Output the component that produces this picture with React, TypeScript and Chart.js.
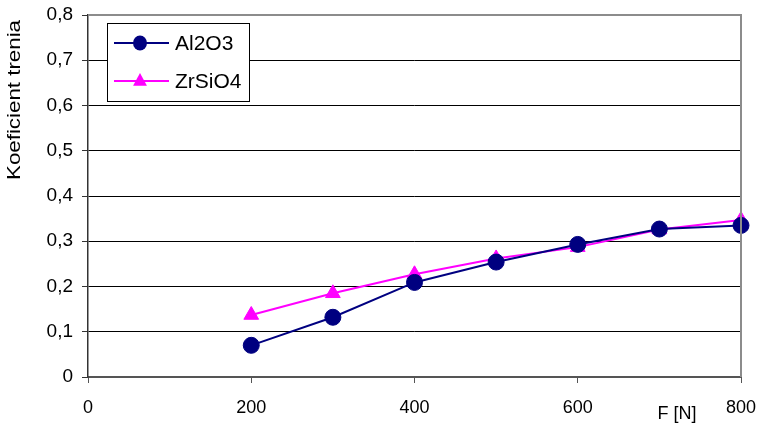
import React, { useEffect, useRef } from "react";
import { Chart, registerables } from "chart.js";

Chart.register(...registerables);

const forces = [200, 300, 400, 500, 600, 700, 800];
const al2o3 = [0.07, 0.132, 0.209, 0.254, 0.293, 0.327, 0.335];
const zrsio4 = [0.137, 0.185, 0.227, 0.262, 0.287, 0.326, 0.347];
const seriesNames = ["Al2O3", "ZrSiO4"];
const yTitle = "Koeficient trenia";
const xTitle = "F [N]";

const FONT = "'Liberation Sans', Arial, sans-serif";

const extrasPlugin = {
  id: "extras",
  afterDraw(chart: any) {
    const ctx = chart.ctx as CanvasRenderingContext2D;
    const ca = chart.chartArea;
    ctx.save();
    ctx.strokeStyle = "#8c8c8c";
    ctx.lineWidth = 2;
    ctx.beginPath();
    ctx.moveTo(ca.left, ca.top);
    ctx.lineTo(ca.right, ca.top);
    ctx.lineTo(ca.right, ca.bottom);
    ctx.stroke();

    ctx.font = `18px ${FONT}`;
    ctx.fillStyle = "#000";
    ctx.textAlign = "center";
    ctx.textBaseline = "middle";
    const w = ctx.measureText(yTitle).width;
    ctx.save();
    ctx.translate(15, 100);
    ctx.rotate(-Math.PI / 2);
    ctx.scale(160 / w, 1);
    ctx.fillText(yTitle, 0, 0);
    ctx.restore();

    ctx.font = `18px ${FONT}`;
    ctx.fillText(xTitle, 677, 414);

    const bx = 107.5, by = 23.5, bw = 142, bh = 78;
    ctx.fillStyle = "#fff";
    ctx.fillRect(bx, by, bw, bh);
    ctx.strokeStyle = "#000";
    ctx.lineWidth = 1;
    ctx.strokeRect(bx, by, bw, bh);
    const rows = [43, 81];
    chart.data.datasets.forEach((ds: any, i: number) => {
      const y = rows[i];
      ctx.strokeStyle = ds.borderColor;
      ctx.lineWidth = 2;
      ctx.beginPath();
      ctx.moveTo(114, y);
      ctx.lineTo(169, y);
      ctx.stroke();
      ctx.fillStyle = ds.pointBackgroundColor;
      ctx.beginPath();
      if (ds.pointStyle === "triangle") {
        const r = 8;
        ctx.moveTo(140, y - r);
        ctx.lineTo(140 + r * 0.866, y + r * 0.6);
        ctx.lineTo(140 - r * 0.866, y + r * 0.6);
        ctx.closePath();
      } else {
        ctx.ellipse(140, y, 7, 7.5, 0, 0, Math.PI * 2);
      }
      ctx.fill();
      ctx.fillStyle = "#000";
      ctx.textAlign = "left";
      ctx.font = `21px ${FONT}`;
      ctx.fillText(ds.label, 175, y + 1);
    });
    ctx.restore();
  },
};

export default function App() {
  const ref = useRef<HTMLCanvasElement | null>(null);
  useEffect(() => {
    if (!ref.current) return;
    const chart = new Chart(ref.current, {
      type: "line",
      data: {
        datasets: [
          {
            label: seriesNames[0],
            data: forces.map((x, i) => ({ x, y: al2o3[i] })),
            borderColor: "#000080",
            backgroundColor: "#000080",
            pointBackgroundColor: "#000080",
            pointBorderColor: "#000080",
            pointStyle: "circle",
            pointRadius: 8,
            borderWidth: 2,
            pointBorderWidth: 1,
          },
          {
            label: seriesNames[1],
            data: forces.map((x, i) => ({ x, y: zrsio4[i] })),
            borderColor: "#FF00FF",
            backgroundColor: "#FF00FF",
            pointBackgroundColor: "#FF00FF",
            pointBorderColor: "#FF00FF",
            pointStyle: "triangle",
            pointRadius: 8.5,
            borderWidth: 2,
            pointBorderWidth: 1,
          },
        ],
      },
      options: {
        animation: false,
        responsive: false,
        maintainAspectRatio: false,
        devicePixelRatio: 1,
        clip: false as any,
        layout: { padding: { top: 15, right: 19, left: 0, bottom: 0 } },
        plugins: { legend: { display: false }, tooltip: { enabled: false } },
        scales: {
          x: {
            type: "linear",
            min: 0,
            max: 800,
            ticks: {
              stepSize: 200,
              color: "#000",
              font: { family: FONT, size: 18 },
              padding: 14,
              maxRotation: 0,
              callback: (v: any) => String(v),
            },
            grid: {
              drawOnChartArea: false,
              drawTicks: true,
              tickLength: 6,
              color: "#555",
            },
            border: { color: "#555", width: 2 },
            afterFit: (s: any) => {
              s.height = 50;
              s.paddingLeft = 0;
              s.paddingRight = 0;
            },
          },
          y: {
            min: 0,
            max: 0.8,
            ticks: {
              stepSize: 0.1,
              color: "#000",
              font: { family: FONT, size: 19 },
              padding: 9,
              callback: (v: any) =>
                Number(v) === 0 ? "0" : Number(v).toFixed(1).replace(".", ","),
            },
            grid: {
              color: "#000",
              lineWidth: 1,
              tickLength: 6,
              tickColor: "#333",
            },
            border: { color: "#333", width: 1.5 },
            afterFit: (s: any) => {
              s.width = 88;
              s.paddingTop = 0;
              s.paddingBottom = 0;
            },
          },
        },
      },
      plugins: [extrasPlugin],
    });
    return () => chart.destroy();
  }, []);
  return (
    <div style={{ position: "fixed", left: 0, top: 0, width: 760, height: 427, background: "#fff" }}>
      <canvas ref={ref} width={760} height={427} style={{ display: "block" }} />
    </div>
  );
}
